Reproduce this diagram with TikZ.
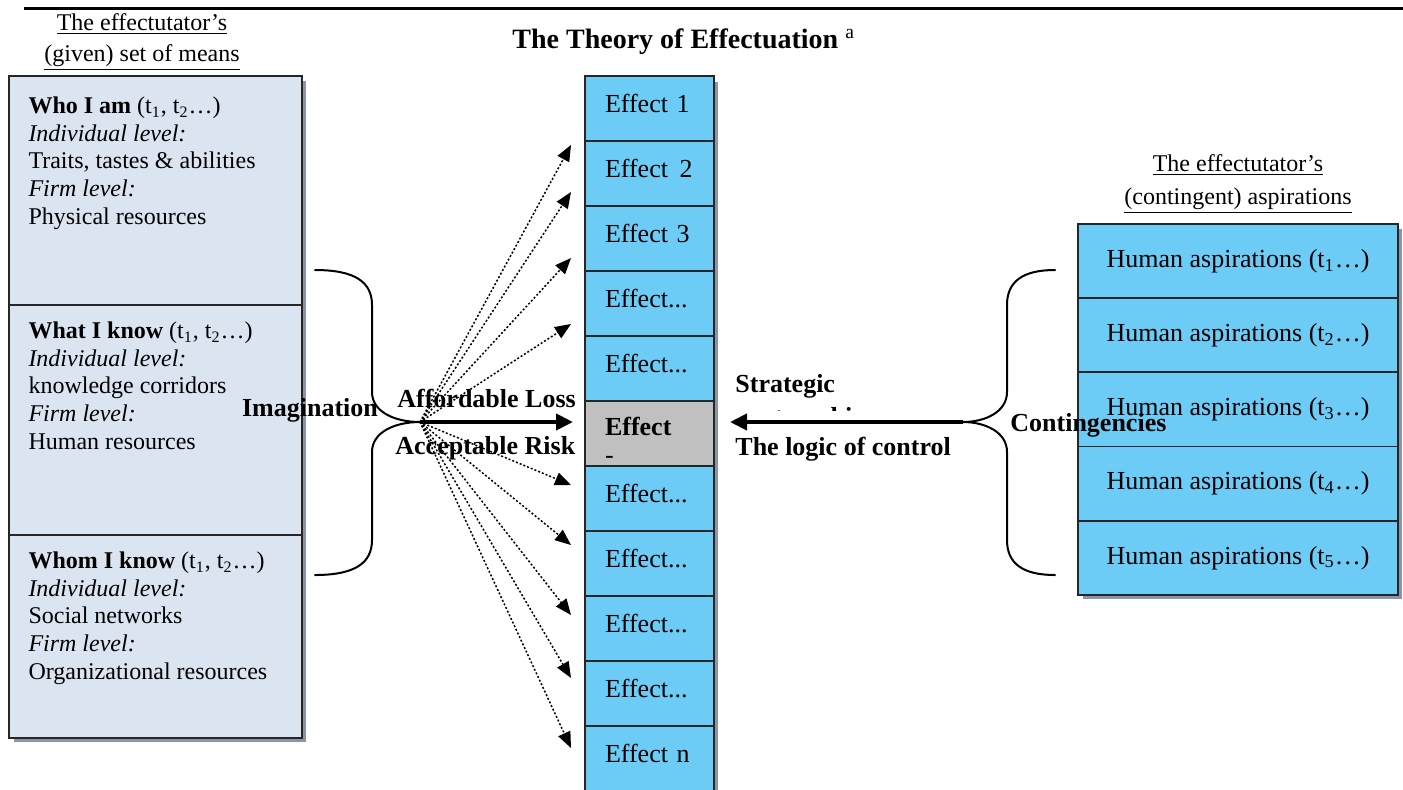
\documentclass[tikz,border=0pt]{standalone}
\usepackage{fontspec}
\setmainfont{Liberation Serif}
\usetikzlibrary{positioning,arrows.meta,calc}
\pgfdeclarelayer{background}
\pgfsetlayers{background,main}
\definecolor{meansblue}{RGB}{219,229,241}
\definecolor{effcyan}{RGB}{108,204,246}
\definecolor{chosengray}{RGB}{192,192,192}
\definecolor{shadowgray}{RGB}{140,148,165}

\begin{document}
\begin{tikzpicture}[x=0.5pt,y=-0.5pt]
\useasboundingbox (0,0) rectangle (1403,789);

\tikzstyle{means}=[rectangle, draw=black!85, fill=meansblue, line width=0.8pt, minimum width=146.5pt, inner xsep=9.5pt, inner ysep=8.5pt, outer sep=0pt, anchor=north west, font=\fontsize{12}{13.8}\selectfont]
\tikzstyle{effect}=[rectangle, draw=black!85, fill=effcyan, line width=0.8pt, minimum width=64.5pt, minimum height=32.5pt, text width=44.5pt, text depth=5pt, inner xsep=10pt, align=left, outer sep=0pt, anchor=north west, font=\fontsize{13}{15}\selectfont]
\tikzstyle{chosen}=[effect, fill=chosengray, text depth=7pt]
\tikzstyle{aspire}=[rectangle, draw=black!85, fill=effcyan, line width=0.8pt, minimum width=160pt, minimum height=37pt, outer sep=0pt, anchor=north west, font=\fontsize{13}{15}\selectfont]
\tikzstyle{heading}=[align=center, inner sep=0pt, font=\fontsize{12}{13.8}\selectfont]
\tikzstyle{logic}=[inner sep=0pt, align=left, font=\fontsize{13}{15}\selectfont\bfseries]
\tikzstyle{brace}=[line width=1pt, line cap=round]
\tikzstyle{fanarrow}=[line width=0.75pt, dash pattern=on 1pt off 1pt, -{Triangle[length=8pt,width=6.5pt]}]
\tikzstyle{bigarrow}=[line width=2pt, -{Triangle[length=8.5pt,width=8pt]}]

% header
\draw[line width=1.5pt] (24,8) -- (1403,8);
\node[inner sep=0pt, anchor=west, font=\fontsize{14}{17}\selectfont\bfseries] (title) at (512,42) {The Theory of Effectuation\ \textsuperscript{\mdseries a}};
\node[heading] (meanshead) at (142,42) {\underline{The effectutator’s}\\[1.5pt]\underline{(given) set of means}};
\node[heading] (aspirehead) at (1238,184) {\underline{The effectutator’s}\\[3pt]\underline{(contingent) aspirations}};

% means
\node[means] (who) at (9,76) {\parbox[t][97.5pt][t]{127pt}{\vspace*{2pt}\textbf{Who I am} (t\textsubscript{1}, t\textsubscript{2}…)\\\textit{Individual level:}\\Traits, tastes \& abilities\\\textit{Firm level:}\\Physical resources}};
\node[means, below=0pt of who] (what) {\parbox[t][98pt][t]{127pt}{\textbf{What I know} (t\textsubscript{1}, t\textsubscript{2}…)\\\textit{Individual level:}\\knowledge corridors\\\textit{Firm level:}\\Human resources}};
\node[means, below=0pt of what] (whom) {\parbox[t][84.5pt][t]{127pt}{\textbf{Whom I know} (t\textsubscript{1}, t\textsubscript{2}…)\\\textit{Individual level:}\\Social networks\\\textit{Firm level:}\\Organizational resources}};

% effects
\node[effect] (eff1) at (585,76) {Effect 1};
\node[effect, below=0pt of eff1] (eff2) {Effect~\kern1.5pt 2};
\node[effect, below=0pt of eff2] (eff3) {Effect 3};
\node[effect, below=0pt of eff3] (eff4) {Effect...};
\node[effect, below=0pt of eff4] (eff5) {Effect...};
\node[chosen, below=0pt of eff5] (eff6) {\textbf{Effect}\\[-1pt]-};
\node[effect, below=0pt of eff6] (eff7) {Effect...};
\node[effect, below=0pt of eff7] (eff8) {Effect...};
\node[effect, below=0pt of eff8] (eff9) {Effect...};
\node[effect, below=0pt of eff9] (eff10) {Effect...};
\node[effect, below=0pt of eff10] (eff11) {Effect n};

% aspirations
\foreach \i in {1,...,5}
  \node[aspire] (asp\i) at (1078,{224+74.2*(\i-1)}) {Human aspirations (t\textsubscript{\i}…)};

\begin{pgfonlayer}{background}
\fill[shadowgray] ($(who.north west)+(5,5)$) rectangle ($(whom.south east)+(4,4)$);
\fill[shadowgray] ($(eff1.north east)+(0,6)$) rectangle ($(eff11.south east)+(4,0)$);
\fill[shadowgray] ($(asp1.north west)+(5,5)$) rectangle ($(asp5.south east)+(4,4)$);
\end{pgfonlayer}

% braces
\coordinate (fan) at (420,422);
\coordinate (ctip) at (963,422);
\draw[brace] (315,270) .. controls (355,270) and (372,282) .. (372,305) -- (372,392) .. controls (372,412) and (395,422) .. (fan) .. controls (395,422) and (372,432) .. (372,452) -- (372,540) .. controls (372,563) and (355,575) .. (315,575);
\draw[brace] (1055,270) .. controls (1022,270) and (1007,282) .. (1007,305) -- (1007,392) .. controls (1007,412) and (985,422) .. (ctip) .. controls (985,422) and (1007,432) .. (1007,452) -- (1007,540) .. controls (1007,563) and (1022,575) .. (1055,575);

% labels
\node[logic] (imag) at (310,410) {Imagination};
\node[logic, anchor=west] (afford) at (397,398) {Affordable Loss};
\node[logic, anchor=west] (accept) at (395,448) {Acceptable Risk};
\node[logic, anchor=north west] (strat) at (735,374) {Strategic\\[1.5pt]partnerships};
\node[logic, anchor=west] (control) at (735,449) {The logic of control};
\node[logic, anchor=west] (cont) at (1010,425) {Contingencies};

% arrows
\foreach \y [count=\k] in {145,192,258,324,485,545,615,678,748} {
  \coordinate (hit\k) at (571,\y);
  \draw[fanarrow] (fan) -- (hit\k);
}
\draw[bigarrow] (fan) -- ([xshift=-6pt]eff6.west |- fan);
\draw[bigarrow, preaction={draw=white, line width=11pt, arrows=-}] (ctip) -- ([xshift=8pt]eff6.east |- ctip);
\end{tikzpicture}
\end{document}
